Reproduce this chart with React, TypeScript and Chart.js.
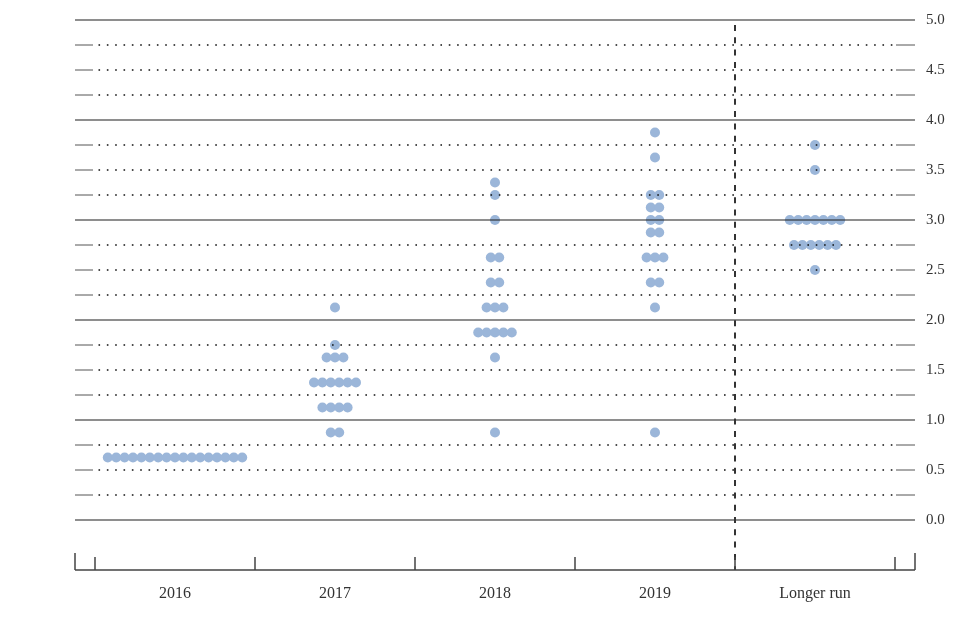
import React, { useEffect, useRef } from 'react';
import { Chart, registerables } from 'chart.js';

Chart.register(...registerables);

// ---- data ----
const categories = ['2016', '2017', '2018', '2019', 'Longer run'];

const rates2016 = [0.625];
const counts2016 = [17];

const rates2017 = [0.875, 1.125, 1.375, 1.625, 1.75, 2.125];
const counts2017 = [2, 4, 6, 3, 1, 1];

const rates2018 = [0.875, 1.625, 1.875, 2.125, 2.375, 2.625, 3.0, 3.25, 3.375];
const counts2018 = [1, 1, 5, 3, 2, 2, 1, 1, 1];

const rates2019 = [0.875, 2.125, 2.375, 2.625, 2.875, 3.0, 3.125, 3.25, 3.625, 3.875];
const counts2019 = [1, 1, 2, 3, 2, 2, 2, 2, 1, 1];

const ratesLonger = [2.5, 2.75, 3.0, 3.5, 3.75];
const countsLonger = [1, 6, 7, 1, 1];

const yTickValues = [0, 0.5, 1, 1.5, 2, 2.5, 3, 3.5, 4, 4.5, 5];
const yTickLabels = ['0.0', '0.5', '1.0', '1.5', '2.0', '2.5', '3.0', '3.5', '4.0', '4.5', '5.0'];

const allRates = [rates2016, rates2017, rates2018, rates2019, ratesLonger];
const allCounts = [counts2016, counts2017, counts2018, counts2019, countsLonger];

// ---- style ----
const DOT_COLOR = '#9bb6d9';
const DOT_STEP = 0.0525; // horizontal spacing between dots, in category units
const FONT = "'Liberation Serif', 'DejaVu Serif', serif";
const TEXT_COLOR = '#333333';

function buildPoints(catIndex: number) {
  const rates = allRates[catIndex];
  const counts = allCounts[catIndex];
  const pts: { x: number; y: number }[] = [];
  rates.forEach((r, k) => {
    const n = counts[k];
    for (let j = 0; j < n; j++) {
      pts.push({ x: catIndex + (j - (n - 1) / 2) * DOT_STEP, y: r });
    }
  });
  return pts;
}

const gridPlugin = {
  id: 'fomcGrid',
  afterDatasetsDraw(chart: any) {
    const { ctx, chartArea, scales } = chart;
    const { left, right, top, bottom } = chartArea;
    const y = scales.y;
    const x = scales.x;
    ctx.save();
    // horizontal grid every 0.25
    for (let q = 0; q <= 20; q++) {
      const v = q * 0.25;
      const py = y.getPixelForValue(v);
      if (q % 4 === 0) {
        ctx.setLineDash([]);
        ctx.strokeStyle = '#1e1e1e';
        ctx.lineWidth = 1.2;
        ctx.beginPath();
        ctx.moveTo(left, py);
        ctx.lineTo(right, py);
        ctx.stroke();
      } else {
        ctx.setLineDash([]);
        ctx.strokeStyle = '#555555';
        ctx.lineWidth = 1;
        ctx.beginPath();
        ctx.moveTo(left, py);
        ctx.lineTo(left + 18, py);
        ctx.moveTo(right - 19, py);
        ctx.lineTo(right, py);
        ctx.stroke();
        ctx.setLineDash([1.6, 6.74]);
        ctx.strokeStyle = '#111111';
        ctx.lineWidth = 1.6;
        ctx.beginPath();
        ctx.moveTo(left + 23.5, py);
        ctx.lineTo(right - 21, py);
        ctx.stroke();
      }
    }
    // vertical dashed separator between 2019 and longer run
    const sx = x.getPixelForValue(3.5);
    ctx.setLineDash([6, 6.3]);
    ctx.strokeStyle = '#333333';
    ctx.lineWidth = 2;
    ctx.beginPath();
    ctx.moveTo(sx, top + 5);
    ctx.lineTo(sx, bottom);
    ctx.stroke();
    // bottom axis
    ctx.setLineDash([]);
    ctx.strokeStyle = '#444444';
    ctx.lineWidth = 1.5;
    ctx.beginPath();
    ctx.moveTo(left, bottom);
    ctx.lineTo(right, bottom);
    ctx.moveTo(left, bottom);
    ctx.lineTo(left, bottom - 17);
    ctx.moveTo(right, bottom);
    ctx.lineTo(right, bottom - 17);
    for (let i = 0; i <= categories.length; i++) {
      const px = x.getPixelForValue(i - 0.5);
      ctx.moveTo(px, bottom);
      ctx.lineTo(px, bottom - 13);
    }
    ctx.stroke();
    ctx.restore();
  },
};

export default function App() {
  const ref = useRef<HTMLCanvasElement | null>(null);
  useEffect(() => {
    if (!ref.current) return;
    const datasets = categories.map((c, i) => ({
      label: c,
      data: buildPoints(i),
      backgroundColor: DOT_COLOR,
      borderColor: DOT_COLOR,
      borderWidth: 0,
      pointRadius: 5,
      pointHoverRadius: 5,
    }));
    const chart = new Chart(ref.current, {
      type: 'scatter',
      data: { datasets },
      options: {
        animation: false,
        responsive: false,
        devicePixelRatio: 1,
        layout: { padding: { left: 75, top: 20, right: 0, bottom: 0 } },
        plugins: { legend: { display: false }, tooltip: { enabled: false } },
        scales: {
          x: {
            type: 'linear',
            min: -0.625,
            max: 4.625,
            position: 'bottom',
            grid: { display: false, drawTicks: false },
            border: { display: false },
            afterBuildTicks: (s: any) => {
              s.ticks = categories.map((_, i) => ({ value: i }));
            },
            afterFit: (s: any) => {
              s.height = 51;
            },
            ticks: {
              autoSkip: false,
              maxRotation: 0,
              padding: 14,
              color: TEXT_COLOR,
              font: { family: FONT, size: 16 },
              callback: (v: any) => categories[v as number] ?? '',
            },
          },
          y: {
            type: 'linear',
            min: -0.5,
            max: 5,
            position: 'right',
            grid: { display: false, drawTicks: false },
            border: { display: false },
            afterBuildTicks: (s: any) => {
              s.ticks = yTickValues.map((v) => ({ value: v }));
            },
            afterFit: (s: any) => {
              s.width = 65;
            },
            ticks: {
              padding: 11,
              color: TEXT_COLOR,
              font: { family: FONT, size: 15 },
              callback: (v: any) => {
                const idx = yTickValues.indexOf(v as number);
                return idx >= 0 ? yTickLabels[idx] : '';
              },
            },
          },
        },
      },
      plugins: [gridPlugin],
    });
    return () => chart.destroy();
  }, []);
  return (
    <div style={{ position: 'absolute', left: 0, top: 0, width: 980, height: 621, background: '#ffffff' }}>
      <canvas ref={ref} width={980} height={621} style={{ display: 'block' }} />
    </div>
  );
}
